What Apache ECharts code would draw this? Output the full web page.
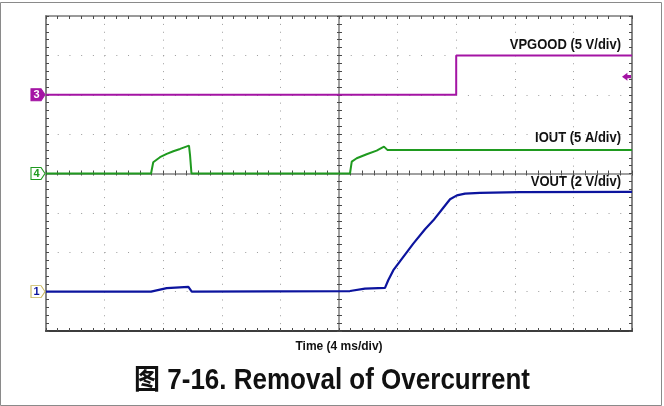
<!DOCTYPE html>
<html>
<head>
<meta charset="utf-8">
<script src="https://cdn.jsdelivr.net/npm/echarts@6/dist/echarts.min.js"></script>
<style>
  html, body { margin: 0; padding: 0; background: #fff; }
  #chart { width: 664px; height: 406px; }
</style>
</head>
<body>
<div id="chart"></div>
<script>
// Scope capture: time in ms (trigger at screen centre), 4 ms/div, 10 x 8 divisions.

// CH3 – VPGOOD (V)
const vpgoodTime  = [-20, 8.0, 8.0, 20];
const vpgoodVolts = [0, 0, 5, 5];

// CH4 – IOUT (A)
const ioutTime = [-20, -12.83, -12.68, -12.22, -11.76, -11.31, -10.85, -10.24, -10.17, -10.07,
                  0.75, 0.87, 1.21, 1.89, 2.57, 3.07, 3.30, 3.94, 20];
const ioutAmps = [0, 0, 1.43, 2.07, 2.49, 2.83, 3.12, 3.54, 2.36, 0,
                  0, 1.51, 1.94, 2.45, 2.91, 3.41, 3.0, 3.0, 3.0];

// CH1 – VOUT (V)
const voutTime  = [-20, -12.83, -12.7, -11.76, -10.28, -10.17, -10.05, 0.75, 1.77, 3.14, 3.36,
                   3.71, 4.16, 5.07, 5.87, 6.44, 7.12, 7.58, 8.05, 8.6, 9.62, 12.35, 20];
const voutVolts = [0, 0, 0.1, 0.18, 0.24, 0.22, 0, 0.03, 0.15, 0.19, 0.58,
                   1.09, 1.54, 2.44, 3.17, 3.62, 4.26, 4.69, 4.89, 4.98, 5.02, 5.05, 5.07];

// PGOOD trigger level (V)
const triggerLevel = [2.3];

// Channel labels
const channelNames = ['VPGOOD (5 V/div)', 'IOUT (5 A/div)', 'VOUT (2 V/div)'];
const timeName = 'Time (4 ms/div)';
const figureTitle = '图 7-16. Removal of Overcurrent';

const zip = (xs, ys) => xs.map((x, i) => [x, ys[i]]);

const C_PG = '#a414a4';
const C_IO = '#1f9a1f';
const C_VO = '#0c149e';
const FONT = "'Liberation Sans', Arial, 'Noto Sans CJK SC', sans-serif";

const tickStyle = { color: '#4a4a4a', width: 1 };

function borderAxis(extra) {
  return Object.assign({
    type: 'value',
    axisLabel: { show: false },
    axisTick: { show: true, inside: true, length: 3, lineStyle: tickStyle },
    minorTick: { show: true, splitNumber: 5, length: 3, lineStyle: tickStyle },
    splitLine: { show: false }
  }, extra);
}

// channel marker shape: a tag pointing right
const tagPath = 'path://M0,0 L10,0 L14,6 L10,12 L0,12 Z';
const arrowLeft = 'path://M0,5 L6,0 L6,3 L10,3 L10,7 L6,7 L6,10 Z';

function tag(text, fill, stroke, txt) {
  return {
    coord: [-20, 0],
    symbol: tagPath,
    symbolSize: [14, 12],
    symbolOffset: [-8, 0],
    itemStyle: { color: fill, borderColor: stroke, borderWidth: 1 },
    label: {
      show: true, formatter: text, position: 'inside', offset: [-1.5, 0.5],
      color: txt, fontFamily: FONT, fontWeight: 'bold', fontSize: 11
    }
  };
}

const chart = echarts.init(document.getElementById('chart'), null, { renderer: 'canvas' });

chart.setOption({
  animation: false,
  backgroundColor: '#ffffff',
  grid: { left: 46, top: 16, width: 586, height: 315, outerBoundsMode: 'none' },
  xAxis: [
    // bottom frame + vertical dotted grid
    borderAxis({
      min: -20, max: 20, interval: 4, position: 'bottom',
      axisLine: { onZero: false, lineStyle: { color: '#3c3c3c', width: 2 } },
      splitLine: { show: true, lineStyle: { color: '#9c9c9c', width: 1, type: [1, 6.875] } },
      name: timeName, nameLocation: 'middle', nameGap: 10,
      nameTextStyle: { color: '#111', fontFamily: FONT, fontWeight: 'bold', fontSize: 12, verticalAlign: 'top' }
    }),
    // top frame
    borderAxis({
      min: -20, max: 20, interval: 4, position: 'top',
      axisLine: { onZero: false, lineStyle: { color: '#7a7a7a', width: 1.5 } }
    }),
    // centre horizontal axis, ticks both sides
    borderAxis({
      min: -20, max: 20, interval: 4, position: 'bottom',
      axisLine: { onZero: true, onZeroAxisIndex: 0, lineStyle: { color: '#9a9a9a', width: 1.5 } }
    }),
    borderAxis({
      min: -20, max: 20, interval: 4, position: 'bottom',
      axisTick: { show: true, inside: false, length: 2, lineStyle: tickStyle },
      minorTick: { show: true, splitNumber: 5, length: 2, lineStyle: tickStyle },
      axisLine: { onZero: true, onZeroAxisIndex: 0, lineStyle: { color: '#9a9a9a', width: 1.5 } }
    })
  ],
  yAxis: [
    // screen divisions: left frame + horizontal dotted grid
    borderAxis({
      min: -4, max: 4, interval: 1, position: 'left',
      axisLine: { onZero: false, lineStyle: { color: '#858585', width: 2 } },
      splitLine: { show: true, lineStyle: { color: '#9c9c9c', width: 1, type: [1, 10.72] } }
    }),
    // VPGOOD: 5 V/div, ground 2 div below top
    { type: 'value', min: -30, max: 10, show: false },
    // IOUT: 5 A/div, zero at centre
    { type: 'value', min: -20, max: 20, show: false },
    // VOUT: 2 V/div, ground 1 div above bottom
    { type: 'value', min: -2, max: 14, show: false },
    // right frame
    borderAxis({
      min: -4, max: 4, interval: 1, position: 'right',
      axisLine: { onZero: false, lineStyle: { color: '#858585', width: 2 } }
    }),
    // centre vertical axis, ticks both sides
    borderAxis({
      min: -4, max: 4, interval: 1, position: 'left',
      axisLine: { onZero: true, onZeroAxisIndex: 0, lineStyle: { color: '#9a9a9a', width: 1.5 } }
    }),
    borderAxis({
      min: -4, max: 4, interval: 1, position: 'left',
      axisTick: { show: true, inside: false, length: 2, lineStyle: tickStyle },
      minorTick: { show: true, splitNumber: 5, length: 2, lineStyle: tickStyle },
      axisLine: { onZero: true, onZeroAxisIndex: 0, lineStyle: { color: '#9a9a9a', width: 1.5 } }
    })
  ],
  series: [
    {
      name: 'VPGOOD', type: 'line', xAxisIndex: 0, yAxisIndex: 1,
      data: zip(vpgoodTime, vpgoodVolts), showSymbol: false, z: 3,
      lineStyle: { color: C_PG, width: 2 },
      markPoint: {
        silent: true,
        data: [
          tag('3', C_PG, C_PG, '#ffffff'),
          {
            coord: [20, triggerLevel[0]], symbol: arrowLeft, symbolSize: [9, 8],
            symbolOffset: [-5.5, 0], itemStyle: { color: C_PG }, label: { show: false }
          }
        ]
      }
    },
    {
      name: 'IOUT', type: 'line', xAxisIndex: 0, yAxisIndex: 2,
      data: zip(ioutTime, ioutAmps), showSymbol: false, z: 4,
      lineStyle: { color: C_IO, width: 2 },
      markPoint: { silent: true, data: [tag('4', '#ffffff', C_IO, C_IO)] }
    },
    {
      name: 'VOUT', type: 'line', xAxisIndex: 0, yAxisIndex: 3,
      data: zip(voutTime, voutVolts), showSymbol: false, z: 5,
      lineStyle: { color: C_VO, width: 2.2 },
      markPoint: { silent: true, data: [tag('1', '#ffffff', '#c8b65a', C_VO)] }
    }
  ],
  graphic: [
    {
      type: 'rect', silent: true, z: -10,
      shape: { x: 0.5, y: 2.5, width: 661, height: 403 },
      style: { fill: 'none', stroke: '#8a8a8a', lineWidth: 1 }
    },
    {
      type: 'text', x: 621, y: 45, scaleY: 1.08, silent: true,
      style: { text: channelNames[0], fill: '#111', font: "bold 13px " + FONT, align: 'right', verticalAlign: 'middle' }
    },
    {
      type: 'text', x: 621, y: 138, scaleY: 1.08, silent: true,
      style: { text: channelNames[1], fill: '#111', font: "bold 13px " + FONT, align: 'right', verticalAlign: 'middle' }
    },
    {
      type: 'text', x: 621, y: 182, scaleY: 1.08, silent: true,
      style: { text: channelNames[2], fill: '#111', font: "bold 13px " + FONT, align: 'right', verticalAlign: 'middle' }
    },
    {
      type: 'text', x: 332, y: 381, scaleY: 1.1, silent: true,
      style: { text: figureTitle, fill: '#111', font: "bold 26px " + FONT, align: 'center', verticalAlign: 'middle' }
    }
  ]
});
</script>
</body>
</html>
